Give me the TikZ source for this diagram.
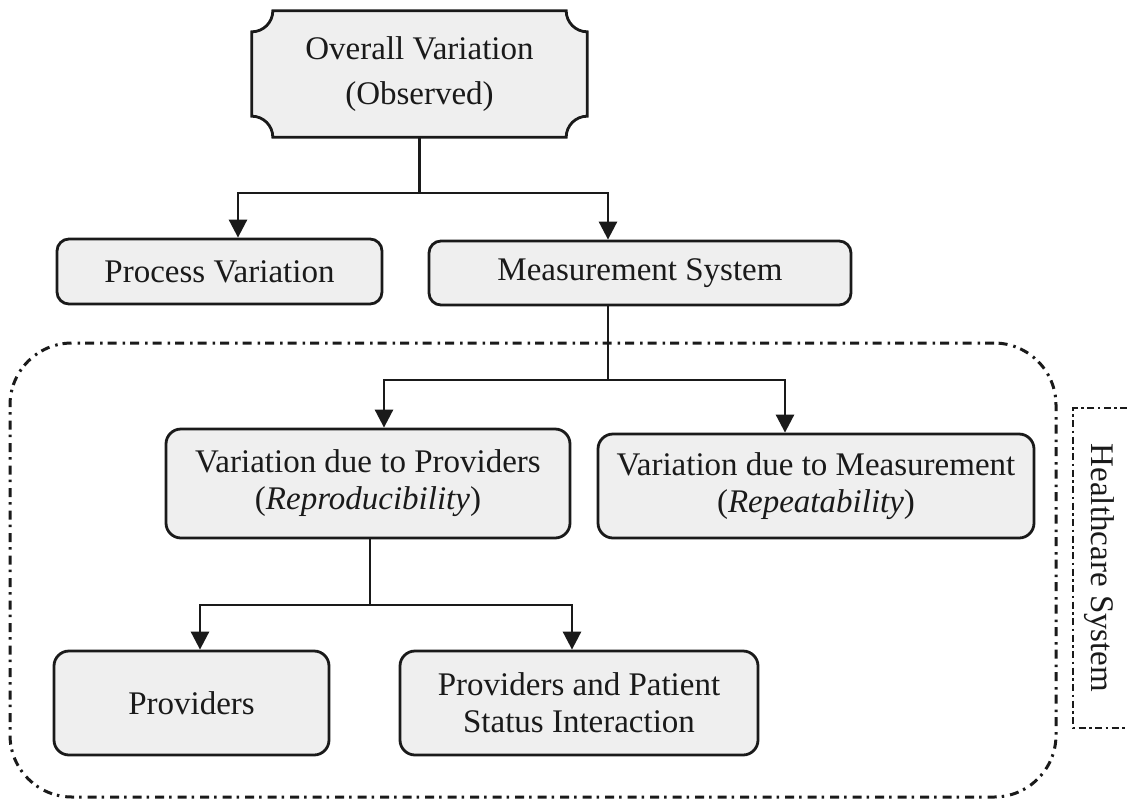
\documentclass[tikz,border=0pt]{standalone}
\usepackage{fontspec}
\setmainfont{Liberation Serif}
\usetikzlibrary{arrows.meta,backgrounds}
\definecolor{boxfill}{HTML}{EFEFEF}
\definecolor{ink}{HTML}{1A1A1A}
\begin{document}
\begin{tikzpicture}[x=1pt,y=-1pt,
  txt/.style={align=center, inner sep=0pt, text=ink, font=\fontsize{33}{37}\selectfont},
  box/.style={txt, draw=ink, line width=2.8pt, fill=boxfill, rounded corners=12pt},
  conn/.style={draw=ink, line width=2.8pt},
  arr/.style={conn, -{Triangle[length=18pt,width=18pt]}},
  region/.style={draw=ink, line width=3pt, dash pattern=on 9pt off 5pt on 2.5pt off 6pt, rounded corners=62pt, inner sep=0pt},
  hsbox/.style={draw=ink, line width=2.6pt, dash pattern=on 7pt off 3.5pt on 2.5pt off 3.5pt},
]
\useasboundingbox (0,0) rectangle (1127,801);

% healthcare region
\node[region, minimum width=1046pt, minimum height=454pt] (hs) at (533,570) {};

% top node with concave corners
\node[txt, font=\fontsize{33}{45}\selectfont, minimum width=335pt, minimum height=126pt] (top) at (419.5,74) {Overall Variation\\(Observed)};
\begin{scope}[on background layer]
\path[draw=ink, fill=boxfill, line width=2.8pt]
  ([xshift=21pt]top.north west) -- ([xshift=-21pt]top.north east)
  arc[start angle=180, end angle=270, radius=21pt]
  -- ([yshift=21pt]top.south east)
  arc[start angle=90, end angle=180, radius=21pt]
  -- ([xshift=21pt]top.south west)
  arc[start angle=0, end angle=90, radius=21pt]
  -- ([yshift=-21pt]top.north west)
  arc[start angle=-90, end angle=0, radius=21pt]
  -- cycle;
\end{scope}

\node[box, minimum width=325pt, minimum height=65pt] (pv) at (219.5,271.5) {Process Variation};
\node[box, minimum width=422pt, minimum height=64pt] (ms) at (640,273) {Measurement System};
\node[box, rounded corners=15pt, minimum width=404pt, minimum height=109pt] (vp) at (368,483.5) {Variation due to Providers\\(\textit{Reproducibility})};
\node[box, rounded corners=15pt, minimum width=436pt, minimum height=104pt] (vm) at (816,486) {Variation due to Measurement\\(\textit{Repeatability})};
\node[box, rounded corners=15pt, minimum width=275pt, minimum height=104pt] (pr) at (191.5,703) {Providers};
\node[box, rounded corners=15pt, minimum width=358pt, minimum height=104pt] (pp) at (579,703) {Providers and Patient\\Status Interaction};

% healthcare system label
\node[txt, rotate=-90] (hslabel) at (1099,568) {Healthcare System};
\coordinate (hbt) at (1127,408);
\coordinate (hbb) at (1127,728);
\draw[hsbox] (hbt) -| (1073,728) -- (hbb);

% connectors
\coordinate (j1) at (419.5,193);
\draw[conn] (top.south) -- (j1);
\draw[arr] (j1) -| ([xshift=18.5pt]pv.north);
\draw[arr] (j1) -| ([xshift=-32pt]ms.north);

\coordinate (j2) at (608,380);
\draw[conn] ([xshift=-32pt]ms.south) -- (j2);
\draw[arr] (j2) -| ([xshift=16pt]vp.north);
\draw[arr] (j2) -| ([xshift=-31pt]vm.north);

\coordinate (j3) at (370,605);
\draw[conn] ([xshift=2pt]vp.south) -- (j3);
\draw[arr] (j3) -| ([xshift=8.5pt]pr.north);
\draw[arr] (j3) -| ([xshift=-7pt]pp.north);
\end{tikzpicture}
\end{document}
